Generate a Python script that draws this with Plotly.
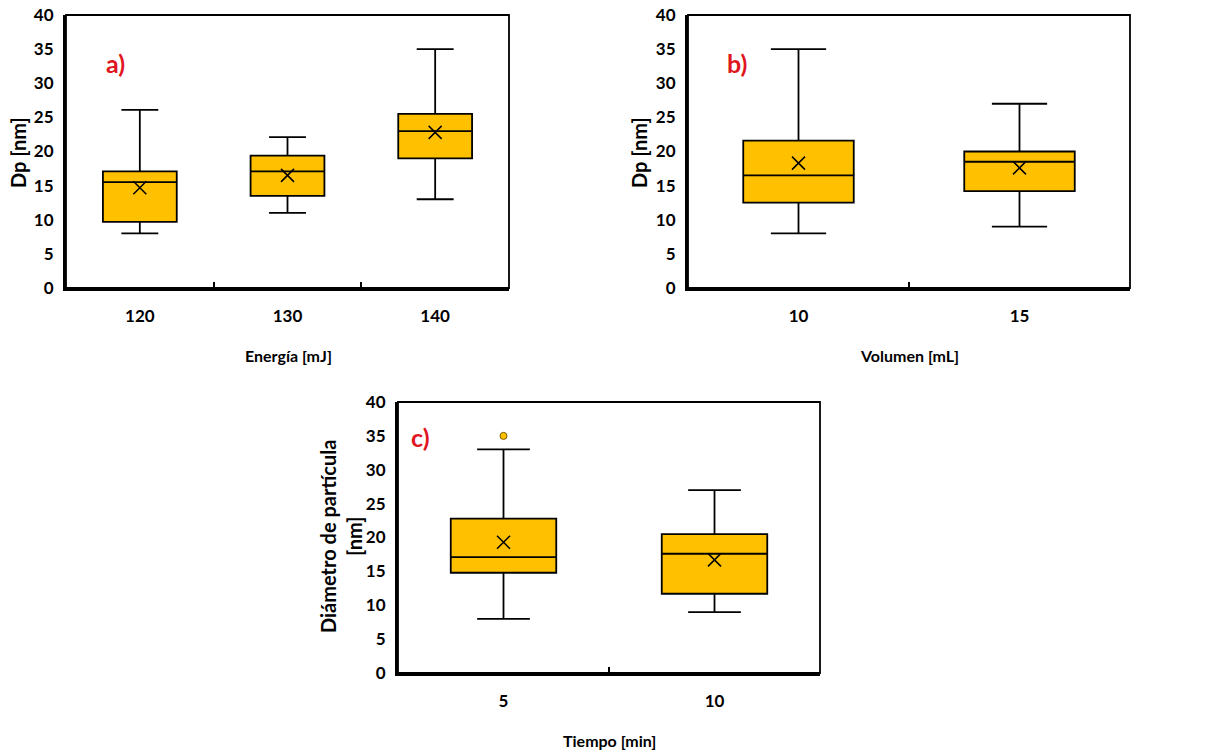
import plotly.graph_objects as go

# ---------------- data ----------------
cat_a = ["120", "130", "140"]
q1_a = [9.7, 13.5, 19.0]
med_a = [15.5, 17.1, 23.0]
q3_a = [17.1, 19.4, 25.5]
lo_a = [8.0, 11.0, 13.0]
hi_a = [26.1, 22.1, 35.0]
mean_a = [14.7, 16.5, 22.8]

cat_b = ["10", "15"]
q1_b = [12.5, 14.2]
med_b = [16.5, 18.5]
q3_b = [21.6, 20.0]
lo_b = [8.0, 9.0]
hi_b = [35.0, 27.0]
mean_b = [18.3, 17.6]

cat_c = ["5", "10"]
q1_c = [14.8, 11.7]
med_c = [17.1, 17.6]
q3_c = [22.8, 20.5]
lo_c = [8.0, 9.0]
hi_c = [33.0, 27.0]
mean_c = [19.3, 16.7]
out_c_x = ["5"]
out_c_y = [35.0]

panel_labels = ["a)", "b)", "c)"]
x_titles = ["Energía [mJ]", "Volumen [mL]", "Tiempo [min]"]
y_titles = ["Dp [nm]", "Dp [nm]", "Diámetro de partícula<br>[nm]"]

W, H = 1231, 753
FONT = "Lato"
BOX_FILL = "#FFC000"
RED = "#E0161E"

fig = go.Figure()

panels = [
    (cat_a, q1_a, med_a, q3_a, lo_a, hi_a, mean_a, "x", "y"),
    (cat_b, q1_b, med_b, q3_b, lo_b, hi_b, mean_b, "x2", "y2"),
    (cat_c, q1_c, med_c, q3_c, lo_c, hi_c, mean_c, "x3", "y3"),
]
for cats, q1, med, q3, lo, hi, mn, xa, ya in panels:
    fig.add_trace(go.Box(
        x=cats, q1=q1, median=med, q3=q3, lowerfence=lo, upperfence=hi,
        xaxis=xa, yaxis=ya, width=0.5, whiskerwidth=0.5,
        fillcolor=BOX_FILL, line=dict(color="black", width=1.8),
        boxpoints=False, hoverinfo="skip", showlegend=False,
    ))
    fig.add_trace(go.Scatter(
        x=cats, y=mn, xaxis=xa, yaxis=ya, mode="markers",
        marker=dict(symbol="x-thin", size=13, line=dict(color="black", width=1.5)),
        showlegend=False, hoverinfo="skip",
    ))

fig.add_trace(go.Scatter(
    x=out_c_x, y=out_c_y, xaxis="x3", yaxis="y3", mode="markers",
    marker=dict(symbol="circle", size=7, color=BOX_FILL, line=dict(color="#7a5a00", width=1)),
    showlegend=False, hoverinfo="skip",
))

def px_x(p):
    return p / W

def px_y(p):
    return 1 - p / H

# plot-area rectangles in pixels (left, right, top, bottom)
areas = [(66, 509, 15, 288), (688, 1130, 15, 288), (398, 820, 402, 673)]
ncats = [len(cat_a), len(cat_b), len(cat_c)]

def xaxis_cfg(dom, anchor, n):
    return dict(
        domain=dom, anchor=anchor, type="category", range=[-0.5, n - 0.5],
        showline=True, linecolor="black", linewidth=3,
        ticks="inside", tickson="boundaries", ticklen=6, tickwidth=2, tickcolor="black",
        showgrid=False, zeroline=False, automargin=False,
        tickfont=dict(family=FONT, size=17, color="black", weight="bold"),
        ticklabelstandoff=11, fixedrange=True,
    )

def yaxis_cfg(dom, anchor):
    return dict(
        domain=dom, anchor=anchor, range=[0, 40], dtick=5,
        showline=True, linecolor="black", linewidth=3,
        ticks="", showgrid=False, zeroline=False, automargin=False,
        tickfont=dict(family=FONT, size=17, color="black", weight="bold"),
        ticklabelstandoff=6, fixedrange=True,
    )

layout = dict(
    width=W, height=H, margin=dict(l=0, r=0, t=0, b=0, autoexpand=False),
    paper_bgcolor="white", plot_bgcolor="white", showlegend=False,
    font=dict(family=FONT, color="black"),
)
names = [("xaxis", "yaxis", "x", "y"), ("xaxis2", "yaxis2", "x2", "y2"), ("xaxis3", "yaxis3", "x3", "y3")]
shapes = []
for (xn, yn, xr, yr), (l, r, t, b), n in zip(names, areas, ncats):
    layout[xn] = xaxis_cfg([px_x(l), px_x(r)], yr, n)
    layout[yn] = yaxis_cfg([px_y(b), px_y(t)], xr)
    shapes.append(dict(type="rect", xref=f"{xr} domain", yref=f"{yr} domain",
                       x0=0, x1=1, y0=0, y1=1, line=dict(color="black", width=1.8)))
layout["shapes"] = shapes

annotations = []
label_pos = [(104, 63), (725, 63), (409, 437)]
for txt, (px, py) in zip(panel_labels, label_pos):
    annotations.append(dict(text=txt, x=px_x(px), y=px_y(py), xref="paper", yref="paper",
                            xanchor="left", yanchor="middle", showarrow=False,
                            font=dict(family=FONT, size=25, color=RED, weight="bold")))
xt_pos = [(288, 355), (909, 355), (609, 740)]
for txt, (px, py) in zip(x_titles, xt_pos):
    annotations.append(dict(text=txt, x=px_x(px), y=px_y(py), xref="paper", yref="paper",
                            xanchor="center", yanchor="middle", showarrow=False,
                            font=dict(family=FONT, size=16, color="black", weight="bold")))
yt_pos = [(18, 153), (639, 153), (341, 537)]
for txt, (px, py) in zip(y_titles, yt_pos):
    annotations.append(dict(text=txt, x=px_x(px), y=px_y(py), xref="paper", yref="paper",
                            xanchor="center", yanchor="middle", showarrow=False, textangle=-90,
                            font=dict(family=FONT, size=20, color="black", weight="bold")))
layout["annotations"] = annotations

fig.update_layout(**layout)
fig.write_html("out.html")
